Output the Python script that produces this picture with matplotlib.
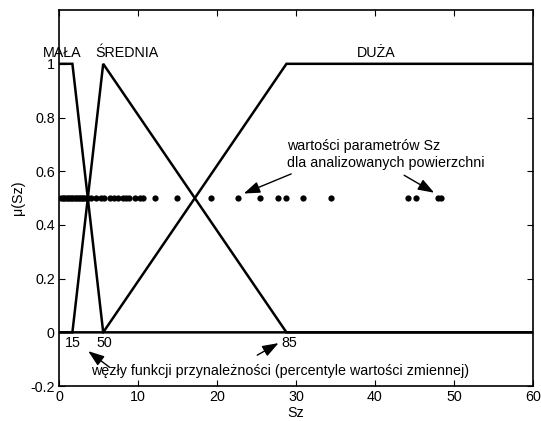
import numpy as np
import matplotlib.pyplot as plt

plt.rcParams['font.family'] = ['Liberation Sans', 'DejaVu Sans']
plt.rcParams['font.size'] = 10.3

# membership function nodes (percentiles 15, 50, 85)
p15, p50, p85 = 1.7, 5.6, 28.8
x_max = 60

mala_x = [0, p15, p50, x_max]
mala_y = [1, 1, 0, 0]
srednia_x = [0, p15, p50, p85, x_max]
srednia_y = [0, 0, 1, 0, 0]
duza_x = [0, p50, p85, x_max]
duza_y = [0, 0, 1, 1]

# Sz values of analysed surfaces
sz_values = [0.3, 0.5, 0.7, 0.9, 1.1, 1.3, 1.5, 1.7, 1.9, 2.1, 2.3, 2.5, 2.7,
             2.9, 3.1, 3.3, 3.5, 3.7, 4.1, 4.7, 5.3, 5.7, 6.4, 7.0, 7.5, 8.1,
             8.5, 8.9, 9.6, 10.2, 10.6, 12.2, 15.0, 19.3, 22.7, 25.5, 27.7,
             28.8, 30.9, 34.4, 44.2, 45.2, 48.0, 48.4]
sz_level = 0.5

fig = plt.figure(figsize=(5.41, 4.21), dpi=100)
ax = fig.add_axes([0.109, 0.083, 0.876, 0.893])

for xs, ys in [(mala_x, mala_y), (srednia_x, srednia_y), (duza_x, duza_y)]:
    ax.plot(xs, ys, color='k', lw=1.8, solid_joinstyle='miter')
ax.plot(sz_values, [sz_level] * len(sz_values), 'o', color='k', ms=4.5, mew=0)

ax.set_xlim(0, 60)
ax.set_ylim(-0.2, 1.2)
ax.set_xticks(np.arange(0, 61, 10))
ax.set_yticks([-0.2, 0, 0.2, 0.4, 0.6, 0.8, 1])
ax.set_yticklabels(['-0.2', '0', '0.2', '0.4', '0.6', '0.8', '1'])
ax.tick_params(direction='in', top=True, right=True, length=4, width=0.8, pad=3)
for s in ax.spines.values():
    s.set_linewidth(1.2)
ax.set_xlabel('Sz', labelpad=1)
ax.set_ylabel('μ(Sz)', labelpad=4)

# set names
ax.text(-2.0, 1.04, 'MAŁA', va='center', ha='left', clip_on=False)
ax.text(4.6, 1.04, 'ŚREDNIA', va='center', ha='left')
ax.text(37.7, 1.04, 'DUŻA', va='center', ha='left')

# annotations
arrow = dict(arrowstyle='-|>,head_length=0.7,head_width=0.25', color='k',
             lw=1.0, mutation_scale=14, shrinkA=0, shrinkB=0)
ax.text(28.9, 0.693, 'wartości parametrów Sz', va='center', ha='left')
ax.text(28.9, 0.63, 'dla analizowanych powierzchni', va='center', ha='left')
ax.annotate('', xy=(23.4, 0.517), xytext=(29.4, 0.59), arrowprops=arrow)
ax.annotate('', xy=(47.5, 0.52), xytext=(43.7, 0.585), arrowprops=arrow)

ax.text(1.8, -0.04, '15', va='center', ha='center')
ax.text(5.8, -0.04, '50', va='center', ha='center')
ax.text(29.1, -0.04, '85', va='center', ha='center')
ax.text(4.1, -0.145, 'węzły funkcji przynależności (percentyle wartości zmiennej)',
        va='center', ha='left')
ax.annotate('', xy=(3.7, -0.07), xytext=(6.4, -0.13), arrowprops=arrow)
ax.annotate('', xy=(27.8, -0.04), xytext=(25.1, -0.085), arrowprops=arrow)

fig.savefig('out.png', dpi=100)
